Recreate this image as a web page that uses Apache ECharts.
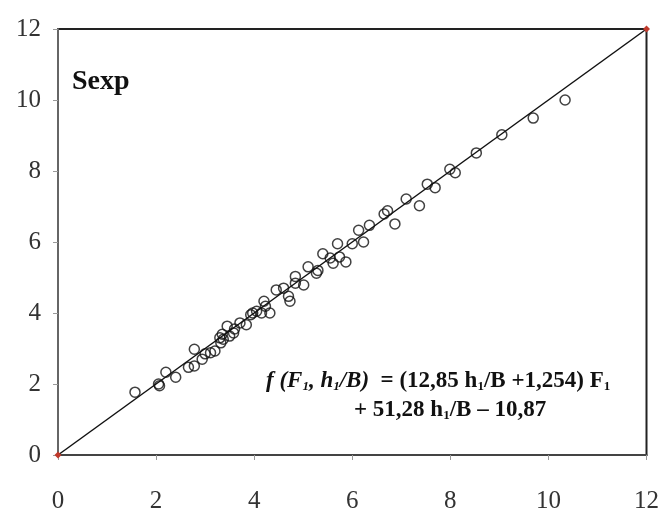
<!DOCTYPE html>
<html><head><meta charset="utf-8">
<script src="https://cdn.jsdelivr.net/npm/echarts@6/dist/echarts.min.js"></script>
<style>html,body{margin:0;padding:0;background:#fff}#c{width:662px;height:521px}</style>
</head><body><div id="c"></div>
<script>
var xVals = [1.57,2.07,2.2,2.4,2.66,2.78,2.78,2.94,3.11,3.2,3.32,3.37,3.45,3.5,3.58,3.71,3.84,3.93,3.97,4.15,4.2,4.23,4.32,4.45,4.7,4.73,4.84,4.84,5.01,5.1,5.27,5.4,5.61,5.7,5.74,5.87,6.0,6.13,6.23,6.35,6.65,6.72,6.87,7.1,7.37,7.53,7.69,7.99,8.1,8.53,9.05,9.69,10.34,3.3,3.6,3.0,4.05,4.6,5.3,5.55,3.35,2.05];
var yVals = [1.77,1.95,2.33,2.19,2.47,2.98,2.51,2.7,2.88,2.93,3.16,3.26,3.63,3.35,3.44,3.72,3.67,3.95,4.0,4.0,4.33,4.19,4.0,4.65,4.47,4.33,5.03,4.84,4.79,5.3,5.12,5.67,5.4,5.95,5.58,5.44,5.95,6.33,6.0,6.47,6.79,6.88,6.51,7.21,7.02,7.63,7.53,8.05,7.95,8.51,9.02,9.49,10.0,3.3,3.55,2.85,4.05,4.7,5.2,5.55,3.4,2.0];
var lineX = [0, 12];
var lineY = [0, 12];
var axisTicks = [0, 2, 4, 6, 8, 10, 12];
var labelText = 'Sexp';

var pts = xVals.map(function(v, i){ return [v, yVals[i]]; });
var linePts = lineX.map(function(v, i){ return [v, lineY[i]]; });
var serif = '"Liberation Serif","DejaVu Serif",serif';

var chart = echarts.init(document.getElementById('c'));
chart.setOption({
  animation: false,
  backgroundColor: '#fff',
  grid: {left: 58, right: 15, top: 29, bottom: 66, show: true, borderColor: '#222', borderWidth: 2, backgroundColor: 'transparent'},
  xAxis: {
    type: 'value', min: axisTicks[0], max: axisTicks[axisTicks.length-1], interval: 2,
    axisLine: {show: true, lineStyle: {color: '#444', width: 2}},
    axisTick: {show: true, length: 5, lineStyle: {color: '#999'}},
    splitLine: {show: false},
    axisLabel: {fontFamily: serif, fontSize: 25, color: '#333', margin: 34}
  },
  yAxis: {
    type: 'value', min: axisTicks[0], max: axisTicks[axisTicks.length-1], interval: 2,
    axisLine: {show: true, lineStyle: {color: '#666', width: 2}},
    axisTick: {show: true, length: 5, lineStyle: {color: '#999'}},
    splitLine: {show: false},
    axisLabel: {fontFamily: serif, fontSize: 25, color: '#333', margin: 17}
  },
  graphic: [
    {type: 'text', left: 72, top: 68, style: {text: labelText, font: 'bold 28px ' + serif, fill: '#111'}},
    {type: 'text', left: 266, top: 370, style: {
      text: '{i|f (F}{is|1}{i|, h}{is|1}{i|/B)}{n|  = (12,85 h}{s|1}{n|/B +1,254) F}{s|1}',
      rich: {
        i: {font: 'italic bold 23px ' + serif, fill: '#111', verticalAlign: 'bottom', lineHeight: 28},
        is: {font: 'italic bold 13px ' + serif, fill: '#111', verticalAlign: 'bottom', lineHeight: 17},
        n: {font: 'bold 23px ' + serif, fill: '#111', verticalAlign: 'bottom', lineHeight: 28},
        s: {font: 'bold 13px ' + serif, fill: '#111', verticalAlign: 'bottom', lineHeight: 17}
      }
    }},
    {type: 'text', left: 354, top: 399, style: {
      text: '{n|+ 51,28 h}{s|1}{n|/B – 10,87}',
      rich: {
        n: {font: 'bold 23px ' + serif, fill: '#111', verticalAlign: 'bottom', lineHeight: 28},
        s: {font: 'bold 13px ' + serif, fill: '#111', verticalAlign: 'bottom', lineHeight: 17}
      }
    }}
  ],
  series: [
    {type: 'line', data: linePts, symbol: 'diamond', symbolSize: 7, showSymbol: true,
     itemStyle: {color: '#c0392b'}, lineStyle: {color: '#111', width: 1.5}, z: 2},
    {type: 'scatter', data: pts, symbol: 'circle', symbolSize: 10,
     itemStyle: {color: 'transparent', borderColor: '#111', borderWidth: 1.5}, z: 3}
  ]
});
</script></body></html>
